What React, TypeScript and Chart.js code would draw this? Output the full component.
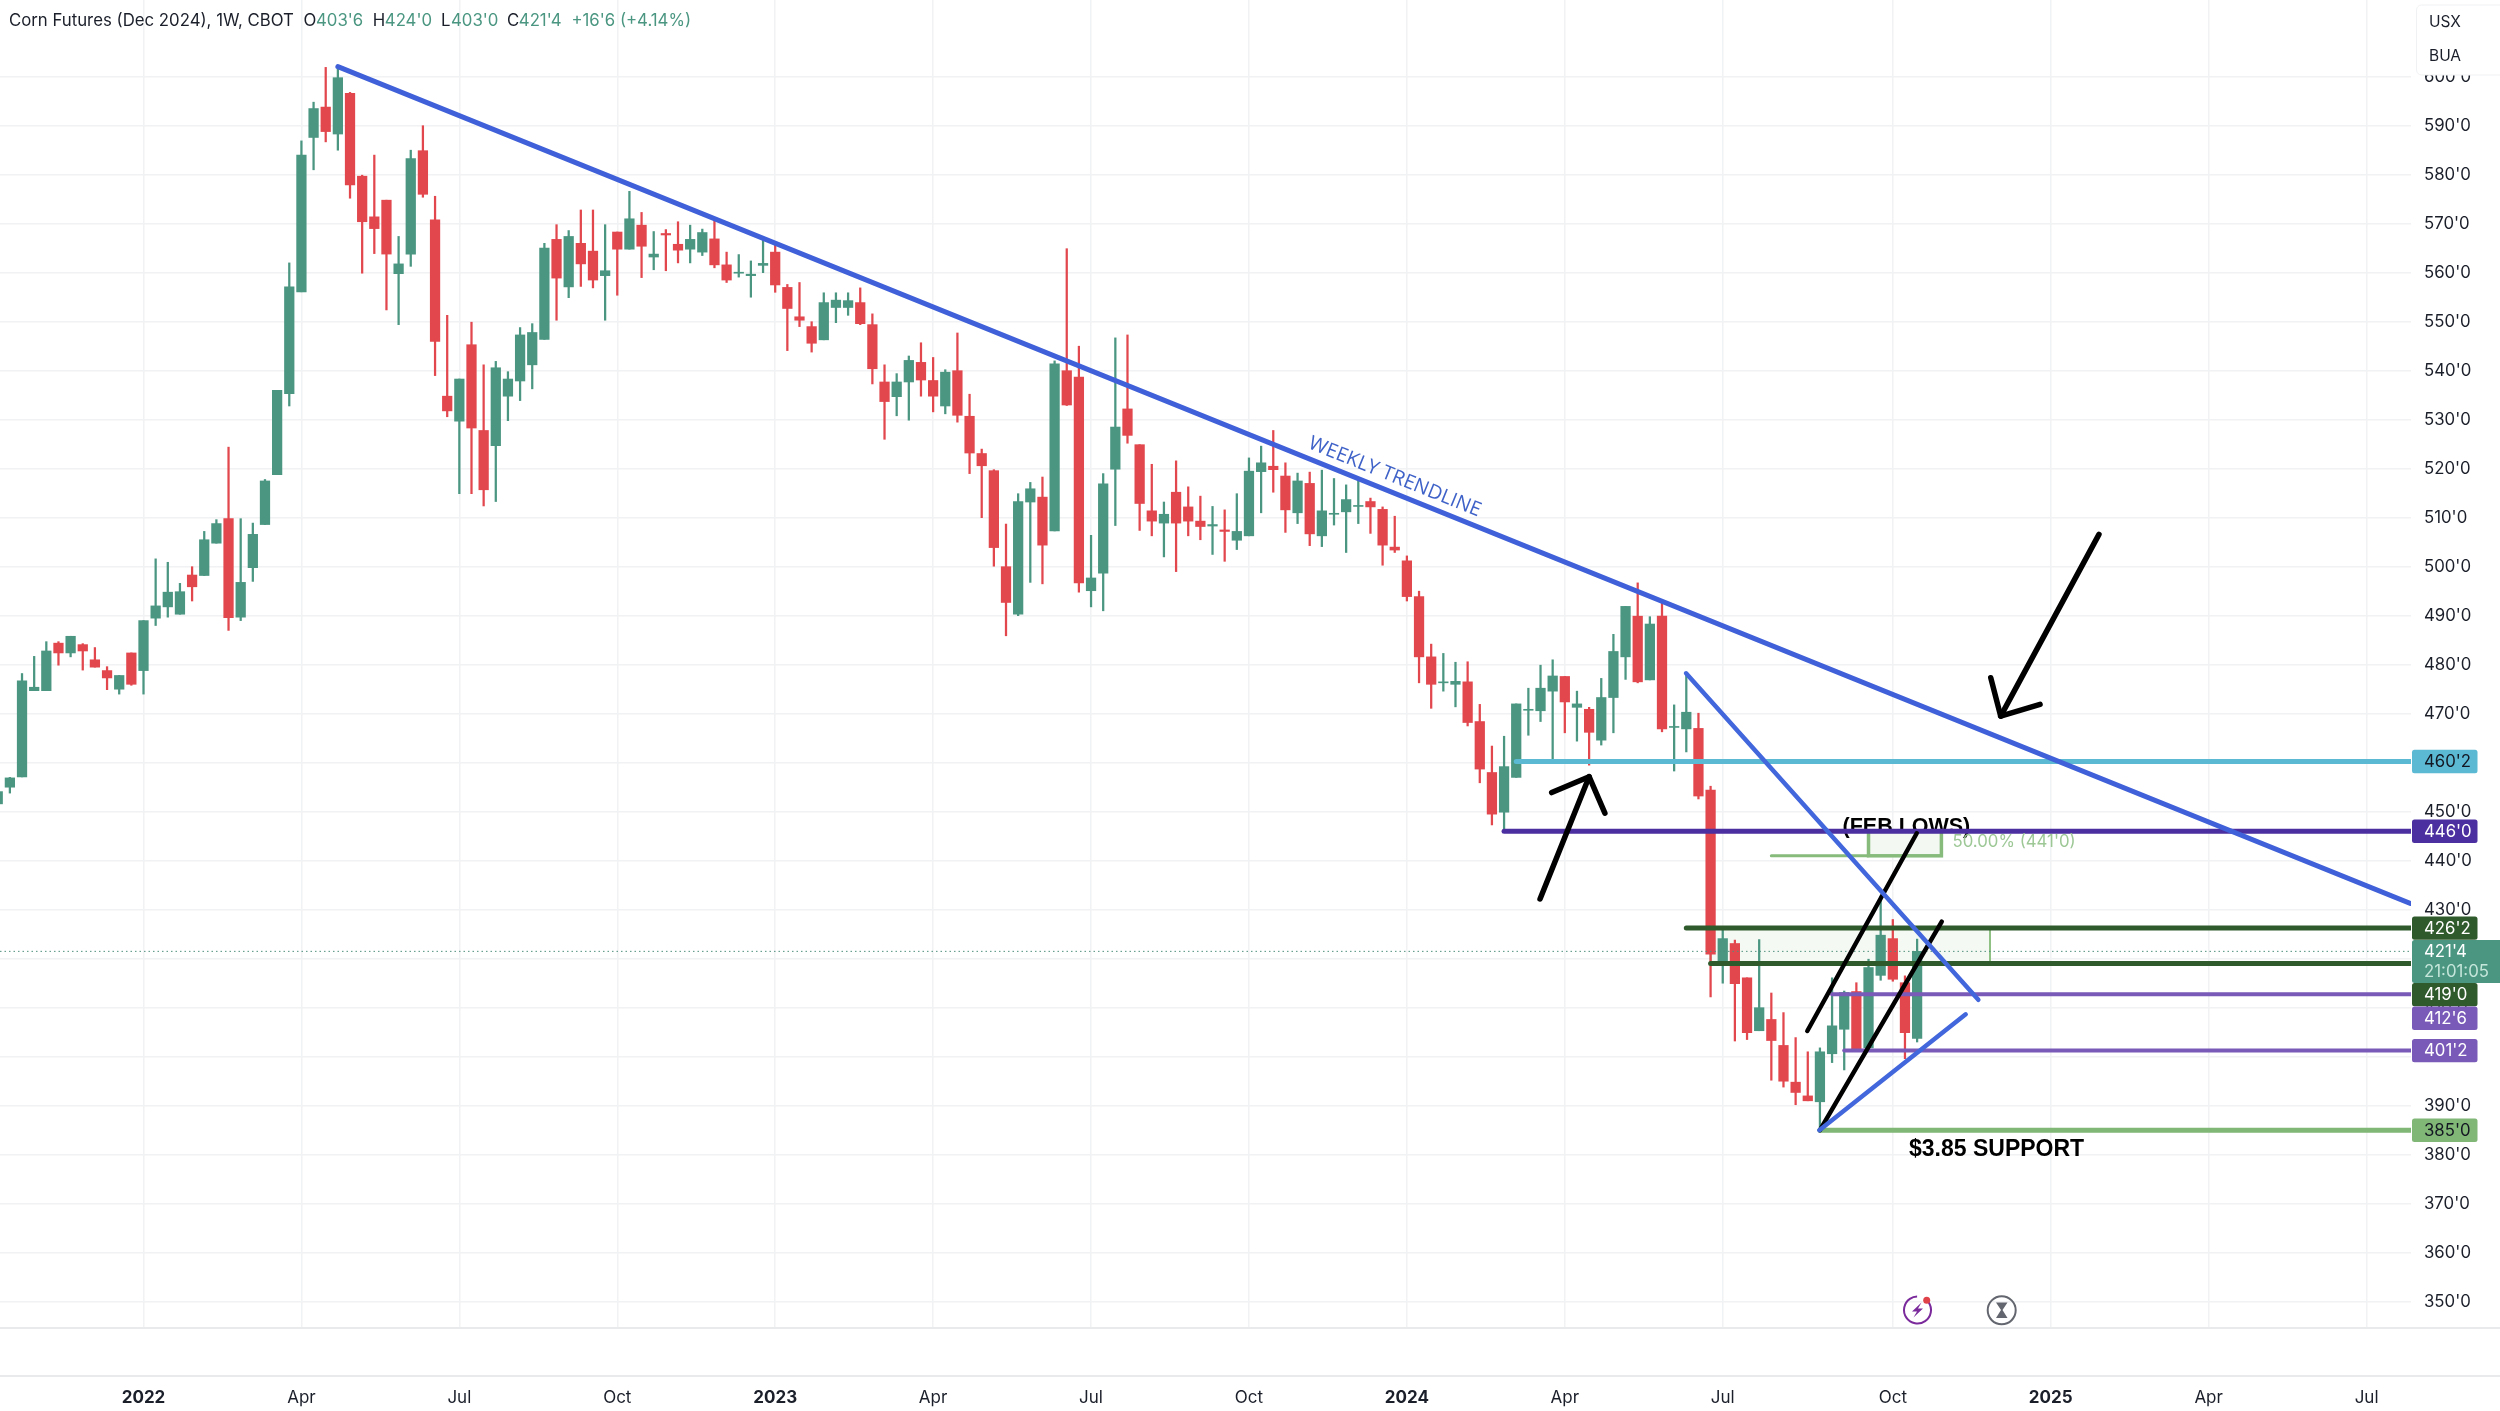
import React, { useEffect, useRef } from "react";
import { Chart, registerables } from "chart.js";

Chart.register(...registerables);

const FIRST_WEEK = -12;

const opens = [
  451.6, 455, 457.1, 474.7, 474.7, 484.4, 482.4, 484.1, 481, 478.8, 475, 482.4,
  478.8, 489.5, 491.8, 490.3, 498.3, 498.2, 504.8, 509.8, 489.7, 499.8, 508.6, 518.8, 535.3,
  556.1, 587.6, 593.8, 588.3, 596.6, 579.7, 571.4, 574.8, 559.8, 563.8, 584.9, 570.8, 534.8,
  529.7, 545.3, 527.8, 524.7, 534.8, 537.9, 541.2, 546.4, 566.8, 557.1, 566, 564.4, 559.4,
  568.3, 564.8, 569.7, 563.2, 568, 565.8, 564.8, 564.2, 566.9, 561.6, 559.9, 559.4, 561.5,
  564.2, 557, 551, 549, 546.3, 552.9, 552.9, 553.9, 549.4, 537.7, 534.7, 537.7, 541.7,
  538, 532.8, 540, 530.7, 523.1, 519.6, 500, 490.3, 513.2, 514.2, 507.3, 540, 538.7,
  495.1, 498.7, 519.9, 532.2, 524.9, 511.4, 508.9, 515.2, 512.2, 509.3, 508.3, 507.5, 505.4,
  506.3, 519.4, 520.5, 518.5, 511, 517, 506.3, 510.7, 511.2, 512.3, 513.3, 511.7, 504,
  501.2, 493.9, 481.6, 476.3, 476, 476.5, 468.4, 458, 449.9, 457, 470.7, 470.6, 474.6,
  477.6, 471.3, 470.9, 464.6, 473.3, 481.6, 489.9, 476.9, 489.9, 467.2, 466.9, 467, 454.4,
  419.5, 423.1, 416.1, 405.3, 407.6, 402.3, 394.8, 392, 390.8, 400.6, 405.6, 413.3, 401.8,
  416.6, 424.1, 415.1, 403.75,
];
const closes = [
  454.1, 456.9, 476.7, 475.4, 482.8, 482.4, 485.8, 482.8, 479.5, 477.3, 477.8, 476,
  489, 492, 494.8, 494.9, 495.9, 505.5, 508.8, 489.6, 496.8, 506.6, 517.5, 536, 557.1,
  584, 593.5, 588.8, 599.8, 577.9, 570.4, 569, 563.8, 561.8, 583.3, 576, 546, 531.8,
  538.3, 528.3, 515.7, 540.6, 538.3, 547.3, 547.8, 565, 558.9, 567.4, 561.8, 558.5, 560.4,
  564.8, 571, 565.4, 563.8, 567.7, 564.6, 566.8, 568.2, 561.6, 558.5, 560.1, 559.7, 561.9,
  557.5, 552.7, 550.3, 545.6, 553.9, 554.4, 554.3, 549.6, 540.4, 533.7, 537.7, 542.1, 538.1,
  534.8, 539.7, 530.9, 523.2, 520.6, 503.9, 492.7, 513.3, 515.9, 504.4, 541.4, 533, 496.7,
  497.7, 516.9, 528.5, 526.8, 512.9, 509.3, 510.7, 508.9, 509.3, 508.2, 508.6, 507.2, 507.2,
  519.5, 521.2, 519.8, 511.6, 517.5, 506.7, 511.4, 510.9, 513.7, 512.5, 512.2, 504.4, 503.4,
  493.9, 481.6, 476, 476.5, 476.6, 468.2, 458.7, 449.5, 459.2, 472, 470.9, 475.2, 477.7,
  472.4, 472, 466.2, 473.3, 482.7, 491.9, 476.5, 488.3, 466.9, 467.4, 470.3, 453.2, 420.9,
  424.1, 414.9, 404.9, 410, 403.3, 395, 392.7, 391, 401, 406.3, 413.1, 401.6, 418.2,
  424.8, 415.8, 404.9, 421.5,
];
const highs = [
  454.1, 457, 478.2, 481.7, 484.7, 484.7, 485.8, 484.3, 483.5, 479.6, 477.8, 482.4,
  489, 501.6, 500.9, 496.6, 500, 507.2, 509.6, 524.4, 509.8, 508.9, 517.8, 536, 562,
  586.9, 594.8, 601.9, 601.9, 596.8, 579.9, 584, 574.8, 567.4, 585, 590, 575.6, 551.3,
  538.3, 549.9, 541.2, 541.9, 539.8, 548.8, 549.6, 566, 569.8, 568.6, 572.8, 572.8, 569.8,
  568.3, 576.6, 572.3, 568.4, 568.8, 570.4, 569.7, 568.9, 571, 564.2, 563.7, 562.4, 566.7,
  565.6, 557.6, 558, 550, 555.9, 555.9, 555.9, 556.9, 551.6, 541.2, 539.4, 543, 545.7,
  542.7, 540.2, 547.7, 535.2, 524, 519.8, 508.7, 514.9, 517.2, 518.3, 542, 564.9, 545,
  506.4, 519, 546.7, 547.3, 524.9, 520.9, 513.2, 521.6, 516.3, 514.4, 512.3, 511.6, 514.9,
  522.2, 524.6, 527.8, 521.2, 519.1, 519.3, 519.7, 518, 516.7, 517.7, 514, 512.2, 510.3,
  502.2, 495, 484.2, 482.3, 480.5, 480.6, 471.9, 463.4, 465.4, 472, 475.2, 479.9, 481,
  477.6, 474.6, 471.3, 477.2, 486.2, 491.9, 496.7, 489.8, 492.7, 471.8, 478.2, 470.1, 455.2,
  426, 423.8, 416.1, 423.9, 413, 409, 403.9, 401, 401.8, 416.1, 413.4, 415.1, 419.9,
  432.8, 428, 416.5, 424,
];
const lows = [
  451.2, 453.8, 457.1, 474.7, 474.7, 479.9, 481.6, 478.9, 479.5, 474.9, 474, 475.8,
  474, 488, 489.7, 490.3, 493, 498.2, 504.8, 487, 489, 497, 508.6, 518.8, 532.8,
  556.1, 581, 586.7, 585, 575.2, 559.9, 563.9, 552.4, 549.4, 561.3, 575.4, 539, 530.6,
  514.9, 514.9, 512.4, 513.3, 529.8, 533.9, 536.3, 546.4, 550.3, 554.9, 557.2, 556.9, 550.3,
  555.4, 564.8, 559, 560.6, 560.4, 562, 562, 563.5, 561, 558, 559.1, 555, 560,
  556, 544.1, 549, 543.8, 546.3, 549.8, 551.3, 549.4, 537.3, 526, 530.8, 529.9, 534.8,
  531.6, 531.2, 529.5, 519, 510, 500.1, 485.9, 490, 496.8, 496.5, 507.3, 532.9, 494.8,
  491.8, 491, 508.4, 525.2, 507.4, 506.3, 502, 499, 506.3, 505.5, 502.5, 501.1, 503.5,
  506.3, 511, 515.2, 507, 508.8, 504.3, 504.1, 508.5, 502.9, 508.8, 506.8, 500.3, 502.9,
  493, 476.3, 471.1, 474.6, 471.4, 467.5, 455.9, 447.3, 446.3, 457, 465.6, 468.4, 460.8,
  466.1, 464.4, 459.5, 463.6, 466.1, 477, 476.3, 476.9, 466.3, 458.3, 462.2, 452.6, 412.2,
  415, 403.2, 403.5, 405.3, 395.2, 393.8, 390.2, 391, 385.2, 398.8, 397.3, 401.6, 401.8,
  415.6, 415.4, 399.6, 403,
];

const weeks = opens.map((_, i) => FIRST_WEEK + i);

const priceTicks = [350, 360, 370, 380, 390, 400, 410, 420, 430, 440, 450, 460, 470, 480, 490, 500, 510, 520, 530, 540, 550, 560, 570, 580, 590, 600];
const timeTickWeeks = [0, 13, 26, 39, 52, 65, 78, 91, 104, 117, 130, 144, 157, 170, 183];
const timeTickLabels = ["2022", "Apr", "Jul", "Oct", "2023", "Apr", "Jul", "Oct", "2024", "Apr", "Jul", "Oct", "2025", "Apr", "Jul"];

const levelNames = ["460'2", "446'0", "426'2", "419'0", "412'6", "401'2", "385'0"];
const levelPrices = [460.25, 446, 426.25, 419, 412.75, 401.25, 385];
const levelStarts = [113, 112, 127, 129, 139, 140, 138];
const levelColors = ["#5cb9d3", "#4b2e9f", "#2f5a2b", "#2f5a2b", "#7a5ab8", "#7a5ab8", "#80b676"];
const levelTextColors = ["#131722", "#ffffff", "#ffffff", "#ffffff", "#ffffff", "#ffffff", "#131722"];

const LAST_PRICE = 421.5;
const GREEN = "#4a9681";
const RED = "#e2474e";
const BLUE = "#3f60d8";
const INK = "#1b1f2a";
const FONT = "Inter";
const X_MIN = (0 - 143.5) / 12.148;
const X_MAX = (2411 - 143.5) / 12.148;
const Y_MAX = 590 + 125.7 / 4.9;
const Y_MIN = Y_MAX - 1328 / 4.9;

type P = { x: number; y: number };
const line = (label: string, data: P[], color: string, width: number, extra: object = {}) => ({
  type: "line" as const,
  label,
  data,
  borderColor: color,
  backgroundColor: color,
  borderWidth: width,
  pointRadius: 0,
  tension: 0,
  fill: false,
  borderCapStyle: "round",
  borderJoinStyle: "round",
  order: 1,
  ...extra,
});

const weeklyTrend: P[] = [{ x: 16, y: 602.06 }, { x: 186.6, y: 431.3 }];
const wedgeDown: P[] = [{ x: 126.98, y: 478.25 }, { x: 151.04, y: 411.6 }];
const wedgeUp: P[] = [{ x: 137.95, y: 385 }, { x: 150, y: 408.65 }];
const channelUpper: P[] = [{ x: 136.96, y: 405.25 }, { x: 145.97, y: 445.6 }];
const channelLower: P[] = [{ x: 138, y: 385 }, { x: 148.03, y: 427.55 }];
const arrowUpShaft: P[] = [{ x: 114.96, y: 432.2 }, { x: 119, y: 457.14 }];
const arrowUpHead: P[] = [{ x: 115.92, y: 453.9 }, { x: 119, y: 457.14 }, { x: 120.3, y: 449.7 }];
const arrowDownShaft: P[] = [{ x: 160.97, y: 506.6 }, { x: 152.88, y: 469.5 }];
const arrowDownHead: P[] = [{ x: 152.06, y: 477.35 }, { x: 152.88, y: 469.5 }, { x: 156.12, y: 471.9 }];
const fibLine: P[] = [{ x: 134, y: 441 }, { x: 142, y: 441 }];

const overlayPlugin = {
  id: "overlay",
  beforeDatasetsDraw(chart: any) {
    const { ctx, scales } = chart;
    const xs = scales.x, ys = scales.y;
    const px = (n: number) => xs.getPixelForValue(n);
    const py = (p: number) => ys.getPixelForValue(p);
    ctx.save();
    ctx.fillStyle = "#000";
    ctx.textBaseline = "alphabetic";
    ctx.textAlign = "left";
    ctx.font = "bold 21.5px 'Liberation Sans'";
    ctx.fillText("(FEB LOWS)", 1842.5, py(446) + 2);

    // 426'2 to 419'0 zone
    ctx.fillStyle = "#f5f9f4";
    ctx.fillRect(px(129), py(426.25), px(152) - px(129), py(419) - py(426.25));
    ctx.strokeStyle = "#8fc184";
    ctx.lineWidth = 2;
    ctx.beginPath();
    ctx.moveTo(px(152), py(426.25));
    ctx.lineTo(px(152), py(419));
    ctx.moveTo(px(129), py(426.25));
    ctx.lineTo(px(129), py(419));
    ctx.stroke();

    // 50% box
    ctx.fillStyle = "#f3f8f2";
    ctx.strokeStyle = "#86bb7c";
    ctx.lineWidth = 3.5;
    ctx.fillRect(px(142), py(446), px(148) - px(142), py(441) - py(446));
    ctx.strokeRect(px(142), py(446), px(148) - px(142), py(441) - py(446));
    ctx.restore();
  },
  afterDatasetsDraw(chart: any) {
    const { ctx, scales } = chart;
    const px = (n: number) => scales.x.getPixelForValue(n);
    const py = (p: number) => scales.y.getPixelForValue(p);
    ctx.save();
    ctx.textBaseline = "middle";
    ctx.textAlign = "left";
    ctx.fillStyle = "#9dc896";
    ctx.font = `16.8px ${FONT}`;
    ctx.fillText("50.00% (441'0)", 1952.5, py(443.9));

    ctx.fillStyle = "#000";
    ctx.font = "bold 23px 'Liberation Sans'";
    ctx.fillText("$3.85 SUPPORT", 1909, py(381));

    ctx.save();
    ctx.translate(px(103), py(518.3));
    ctx.rotate((22 * Math.PI) / 180);
    ctx.textAlign = "center";
    ctx.fillStyle = "#3f62c8";
    ctx.font = "19.8px 'Open Sans'";
    ctx.fillText("WEEKLY TRENDLINE", 0, 0);
    ctx.restore();
    ctx.restore();
  },
  afterDraw(chart: any) {
    const { ctx, scales, chartArea } = chart;
    const py = (p: number) => scales.y.getPixelForValue(p);
    ctx.save();

    // pane separators
    ctx.fillStyle = "#e9eaec";
    ctx.fillRect(0, chartArea.bottom - 1, 2500, 2);
    ctx.fillRect(0, 1375, 2500, 2);

    // legend line
    ctx.textBaseline = "middle";
    ctx.textAlign = "left";
    ctx.font = `16.8px ${FONT}`;
    const legend: [string, number, string][] = [
      ["Corn Futures (Dec 2024), 1W, CBOT", 8.9, INK],
      ["O", 303.6, INK], ["403'6", 316, GREEN],
      ["H", 372.8, INK], ["424'0", 384.8, GREEN],
      ["L", 441, INK], ["403'0", 451, GREEN],
      ["C", 507, INK], ["421'4", 518.8, GREEN],
      ["+16'6 (+4.14%)", 571.4, GREEN],
    ];
    legend.forEach(([t, x, c]) => {
      ctx.fillStyle = c;
      ctx.fillText(t, x, 21);
    });

    // currency / unit box
    ctx.fillStyle = "#ffffff";
    ctx.strokeStyle = "#f0f1f3";
    ctx.lineWidth = 1;
    ctx.beginPath();
    ctx.roundRect(2416.5, 5, 100, 70, 5);
    ctx.fill();
    ctx.stroke();
    ctx.fillStyle = INK;
    ctx.font = `15.5px ${FONT}`;
    ctx.fillText("USX", 2429, 22);
    ctx.fillText("BUA", 2429, 56);

    // level badges
    const shifts = [0, 0, 0, 31, 24, 0, 0];
    ctx.font = `16.8px ${FONT}`;
    levelNames.forEach((name, i) => {
      const c = py(levelPrices[i]) + shifts[i];
      ctx.fillStyle = levelColors[i];
      ctx.beginPath();
      ctx.roundRect(2412, c - 11.7, 65.5, 23.4, 2.5);
      ctx.fill();
      ctx.fillStyle = levelTextColors[i];
      ctx.fillText(name, 2424, c + 0.5);
    });

    // last price badge
    ctx.fillStyle = GREEN;
    ctx.beginPath();
    ctx.roundRect(2412, 940, 100, 43, 2.5);
    ctx.fill();
    ctx.fillStyle = "#ffffff";
    ctx.fillText("421'4", 2424, 952);
    ctx.fillStyle = "#c5e6da";
    ctx.fillText("21:01:05", 2424, 972);

    // session icons
    ctx.lineWidth = 2;
    ctx.strokeStyle = "#7b2a9c";
    ctx.beginPath();
    ctx.arc(1917.5, 1310, 13.5, -0.6, Math.PI * 2 - 1.6);
    ctx.stroke();
    ctx.fillStyle = "#7b2a9c";
    ctx.beginPath();
    ctx.moveTo(1921.5, 1302.5);
    ctx.lineTo(1912, 1311.5);
    ctx.lineTo(1917, 1311.5);
    ctx.lineTo(1913.5, 1317.5);
    ctx.lineTo(1923, 1308.5);
    ctx.lineTo(1918, 1308.5);
    ctx.closePath();
    ctx.fill();
    ctx.fillStyle = "#e0424a";
    ctx.beginPath();
    ctx.arc(1926.7, 1300.3, 3.5, 0, Math.PI * 2);
    ctx.fill();

    ctx.strokeStyle = "#63666e";
    ctx.beginPath();
    ctx.arc(2001.7, 1310.3, 14, 0, Math.PI * 2);
    ctx.stroke();
    ctx.fillStyle = "#63666e";
    ctx.beginPath();
    ctx.moveTo(1996, 1302.5);
    ctx.lineTo(2007.5, 1302.5);
    ctx.lineTo(2002.5, 1310);
    ctx.lineTo(2007.5, 1318);
    ctx.lineTo(1996, 1318);
    ctx.lineTo(2001, 1310);
    ctx.closePath();
    ctx.fill();
    ctx.restore();
  },
};

const noPadding = (s: any) => {
  s.paddingTop = 0;
  s.paddingBottom = 0;
  s.paddingLeft = 0;
  s.paddingRight = 0;
};

export default function App() {
  const ref = useRef<HTMLCanvasElement | null>(null);
  useEffect(() => {
    if (!ref.current) return;
    const colors = opens.map((o, i) => (closes[i] >= o ? GREEN : RED));
    const levels = levelNames.map((name, i) =>
      line(
        name,
        [{ x: levelStarts[i], y: levelPrices[i] }, { x: 190, y: levelPrices[i] }],
        levelColors[i],
        i === 4 || i === 5 ? 4 : 5
      )
    );
    const chart = new Chart(ref.current, {
      type: "bar",
      data: {
        datasets: [
          line("Weekly trendline", weeklyTrend, BLUE, 5),
          line("Wedge upper", wedgeDown, "#4266dc", 4.5),
          line("Wedge lower", wedgeUp, "#4266dc", 4.5),
          line("Channel upper", channelUpper, "#000000", 4.5),
          line("Channel lower", channelLower, "#000000", 4.5),
          line("Arrow up shaft", arrowUpShaft, "#000000", 5.5),
          line("Arrow up head", arrowUpHead, "#000000", 5.5),
          line("Arrow down shaft", arrowDownShaft, "#000000", 5.5),
          line("Arrow down head", arrowDownHead, "#000000", 5.5),
          ...levels,
          line("50% line", fibLine, "#86bb7c", 3),
          line("Last price", [{ x: X_MIN, y: LAST_PRICE }, { x: X_MAX, y: LAST_PRICE }], "#4f8f7d", 1, {
            borderDash: [1.5, 3],
            borderCapStyle: "butt",
            order: 4,
          }),
          {
            type: "bar" as const,
            label: "Body",
            data: weeks.map((w, i) => ({ x: w, y: [opens[i], closes[i]] })),
            backgroundColor: colors,
            barThickness: 9.6,
            grouped: false,
            order: 5,
          },
          {
            type: "bar" as const,
            label: "Wick",
            data: weeks.map((w, i) => ({ x: w, y: [lows[i], highs[i]] })),
            backgroundColor: colors,
            barThickness: 1.6,
            grouped: false,
            order: 6,
          },
        ] as any,
      },
      options: {
        responsive: false,
        animation: false,
        devicePixelRatio: 1,
        layout: { padding: 0 },
        plugins: { legend: { display: false }, title: { display: false }, tooltip: { enabled: false } },
        scales: {
          x: {
            type: "linear",
            offset: false,
            min: X_MIN,
            max: X_MAX,
            afterFit: (s: any) => {
              s.height = 83;
              noPadding(s);
            },
            afterBuildTicks: (s: any) => {
              s.ticks = timeTickWeeks.map((value) => ({ value }));
            },
            grid: { color: "#f1f2f4", lineWidth: 1.5, drawTicks: false, offset: false },
            border: { display: false },
            ticks: {
              autoSkip: false,
              maxRotation: 0,
              padding: 59.5,
              color: INK,
              font: (c: any) => {
                const label = timeTickLabels[timeTickWeeks.indexOf(c.tick?.value)] || "";
                return /^\d/.test(label)
                  ? { family: FONT, size: 17, weight: "bold" }
                  : { family: FONT, size: 17, weight: "normal" };
              },
              callback: (v: any) => timeTickLabels[timeTickWeeks.indexOf(Number(v))],
            },
          },
          y: {
            type: "linear",
            position: "right",
            min: Y_MIN,
            max: Y_MAX,
            afterFit: (s: any) => {
              s.width = 89;
              noPadding(s);
            },
            afterBuildTicks: (s: any) => {
              s.ticks = priceTicks.map((value) => ({ value }));
            },
            grid: { color: "#f1f2f4", lineWidth: 1.5, drawTicks: false },
            border: { display: false },
            ticks: {
              autoSkip: false,
              padding: 13,
              crossAlign: "near",
              color: INK,
              font: { family: FONT, size: 16.8 },
              callback: (v: any) => `${v}'0`,
            },
          },
        },
      } as any,
      plugins: [overlayPlugin],
    });
    return () => chart.destroy();
  }, []);
  return (
    <div style={{ position: "absolute", left: 0, top: 0, width: 2500, height: 1411, background: "#fff" }}>
      <canvas ref={ref} width={2500} height={1411} style={{ display: "block", width: 2500, height: 1411 }} />
    </div>
  );
}
